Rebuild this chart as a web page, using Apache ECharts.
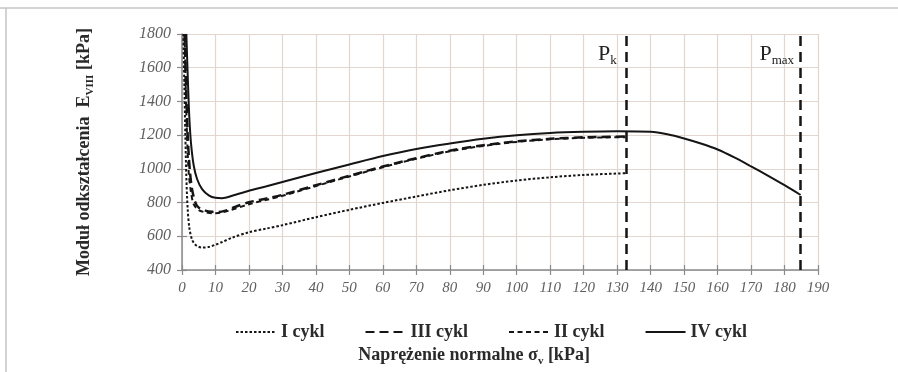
<!DOCTYPE html>
<html>
<head>
<meta charset="utf-8">
<script src="https://cdn.jsdelivr.net/npm/echarts@6/dist/echarts.min.js"></script>
<style>
  html, body { margin: 0; padding: 0; background: #fff; }
  #chart { width: 898px; height: 372px; }
</style>
</head>
<body>
<div id="chart"></div>
<script>
// cycle curves: [sigma_v kPa, E kPa]
const cycleI = [
  [0.4, 1800], [0.7, 1500], [1, 1200], [1.3, 950], [1.7, 760], [2.2, 650], [3, 580], [4, 550],
  [5, 538], [6, 533], [8, 537], [10, 550], [12, 566], [15, 592], [20, 624], [25, 645], [30, 666],
  [40, 713], [50, 757], [60, 798], [70, 836], [80, 873], [90, 905], [100, 931], [110, 950],
  [120, 964], [132.5, 974]
];
const cycleII = [
  [0.8, 1800], [1.1, 1500], [1.5, 1200], [2, 980], [2.7, 860], [3.5, 790], [5, 755], [7, 742],
  [9, 737], [11, 738], [14, 752], [20, 790], [25, 815], [30, 840], [40, 898], [50, 955],
  [60, 1010], [70, 1060], [80, 1104], [90, 1136], [100, 1160], [110, 1175], [120, 1184],
  [132.5, 1188]
];
const cycleIII = [
  [0.8, 1800], [1.2, 1500], [1.7, 1200], [2.3, 1000], [3, 880], [4, 800], [5, 770], [7, 752],
  [9, 745], [11, 744], [13, 752], [16, 775], [20, 802], [25, 823], [30, 846], [40, 903],
  [50, 959], [60, 1014], [70, 1063], [80, 1108], [90, 1140], [100, 1163], [110, 1178],
  [120, 1187], [132.5, 1192]
];
const cycleIV = [
  [1.3, 1800], [1.8, 1500], [2.2, 1300], [2.7, 1150], [3.5, 1020], [4.5, 940], [6, 880],
  [8, 843], [10, 828], [12, 826], [15, 840], [20, 870], [25, 895], [30, 922], [40, 975],
  [50, 1026], [60, 1076], [70, 1118], [80, 1150], [90, 1178], [100, 1199], [110, 1213],
  [120, 1220], [130, 1223], [140, 1220], [145, 1205], [150, 1180], [155, 1150], [160, 1115],
  [165, 1068], [170, 1015], [175, 960], [180, 903], [184.8, 845]
];
const legendNames = ['I cykl', 'III cykl', 'II cykl', 'IV cykl'];
const pkX = 132.7;
const pmaxX = 184.8;
const labelY = 1680;

const SERIF = '"Liberation Serif", "DejaVu Serif", serif';
const INK = '#151515';

const chart = echarts.init(document.getElementById('chart'));

function curve(name, data, type, width) {
  return {
    name: name,
    type: 'line',
    data: data,
    symbol: 'none',
    smooth: 0.3,
    clip: true,
    lineStyle: { color: INK, width: width, type: type },
    itemStyle: { color: INK }
  };
}

const subRich = {
  a: { fontFamily: SERIF, fontSize: 18, fontWeight: 'bold', color: '#2a2a2a', lineHeight: 24 },
  s: { fontFamily: SERIF, fontSize: 11, fontWeight: 'bold', color: '#2a2a2a', verticalAlign: 'bottom' }
};
const pRich = {
  a: { fontFamily: SERIF, fontSize: 22, color: '#222', lineHeight: 26 },
  s: { fontFamily: SERIF, fontSize: 13, color: '#222', verticalAlign: 'bottom' }
};

const ivSeries = curve('IV cykl', cycleIV, 'solid', 2);
ivSeries.z = 5;
ivSeries.markLine = {
  silent: true,
  symbol: ['none', 'none'],
  label: { show: false },
  lineStyle: { color: INK, width: 2.5, type: [10, 6] },
  data: [{ xAxis: pkX }, { xAxis: pmaxX }]
};
ivSeries.markPoint = {
  silent: true,
  symbol: 'rect',
  symbolSize: 1,
  itemStyle: { color: 'rgba(0,0,0,0)' },
  label: { show: true, position: 'left', distance: 9, rich: pRich },
  data: [
    { coord: [pkX, labelY], label: { formatter: '{a|P}{s|k}' } },
    { coord: [pmaxX, labelY], label: { formatter: '{a|P}{s|max}', distance: 6 } }
  ]
};

const option = {
  animation: false,
  backgroundColor: '#fff',
  graphic: [
    { type: 'line', shape: { x1: 0, y1: 8, x2: 898, y2: 8 }, style: { stroke: '#c4c4c4', lineWidth: 1.5 } },
    { type: 'line', shape: { x1: 6, y1: 8, x2: 6, y2: 372 }, style: { stroke: '#c4c4c4', lineWidth: 1.5 } }
  ],
  grid: { left: 182, right: 80, top: 34, bottom: 92, containLabel: false },
  legend: {
    data: legendNames,
    left: 230,
    top: 318,
    itemWidth: 40,
    itemHeight: 12,
    itemGap: 40,
    itemStyle: { opacity: 0 },
    textStyle: { fontFamily: SERIF, fontSize: 18, fontWeight: 'bold', color: '#2a2a2a' }
  },
  xAxis: [
    {
      type: 'value',
      min: 0,
      max: 190,
      interval: 10,
      name: '{a|Naprężenie normalne σ}{s|v}{a| [kPa]}',
      nameLocation: 'middle',
      nameGap: 73,
      nameTextStyle: { rich: subRich, padding: [0, 52, 0, 0] },
      axisLine: { onZero: false, lineStyle: { color: '#8a8a8a', width: 1.5 } },
      axisTick: { show: true, length: 5, lineStyle: { color: '#8a8a8a', width: 1.2 } },
      axisLabel: { fontFamily: SERIF, fontStyle: 'italic', fontSize: 15, color: '#606060', margin: 11 },
      splitLine: { show: true, lineStyle: { color: '#e2d6cf', width: 1.2 } }
    },
    {
      type: 'value',
      position: 'bottom',
      min: 0,
      max: 190,
      interval: 10,
      axisLine: { show: false, onZero: false },
      axisTick: { show: true, inside: true, length: 5, lineStyle: { color: '#8a8a8a', width: 1.2 } },
      axisLabel: { show: false },
      splitLine: { show: false }
    }
  ],
  yAxis: [
    {
      type: 'value',
      min: 400,
      max: 1800,
      interval: 200,
      name: '{a|Moduł odkształcenia  E}{s|VIII}{a| [kPa]}',
      nameLocation: 'middle',
      nameGap: 86,
      nameRotate: 90,
      nameTextStyle: { rich: subRich },
      axisLine: { show: true, lineStyle: { color: '#8a8a8a', width: 1.5 } },
      axisTick: { show: true, length: 5, lineStyle: { color: '#8a8a8a', width: 1.2 } },
      axisLabel: {
        fontFamily: SERIF, fontStyle: 'italic', fontSize: 16, color: '#606060', margin: 11,
        formatter: function (v) { return String(v); }
      },
      splitLine: { show: true, lineStyle: { color: '#e2d6cf', width: 1.2 } }
    },
    {
      type: 'value',
      position: 'left',
      min: 400,
      max: 1800,
      interval: 200,
      axisLine: { show: false },
      axisTick: { show: true, inside: true, length: 5, lineStyle: { color: '#8a8a8a', width: 1.2 } },
      axisLabel: { show: false },
      splitLine: { show: false }
    }
  ],
  series: [
    curve('I cykl', cycleI, [2.5, 2], 2),
    curve('III cykl', cycleIII, [9, 5], 2.5),
    curve('II cykl', cycleII, [5, 3.5], 2),
    ivSeries
  ]
};

chart.setOption(option);
</script>
</body>
</html>
